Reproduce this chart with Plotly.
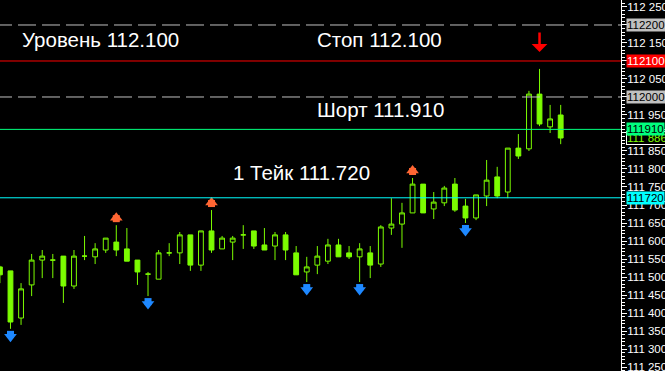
import plotly.graph_objects as go
import numpy as np

W, H = 665, 371
PLOT_RIGHT = 621  # pixel x of the price axis line

# ---------------- data ----------------
bar_index = list(range(54))
opens = [111.528, 111.517, 111.386, 111.478, 111.547, 111.547, 111.558, 111.475, 111.558, 111.556,
         111.575, 111.597, 111.578, 111.547, 111.508, 111.494, 111.567, 111.567, 111.617, 111.533,
         111.628, 111.578, 111.597, 111.617, 111.628, 111.589, 111.586, 111.617, 111.567, 111.514,
         111.533, 111.544, 111.589, 111.567, 111.556, 111.567, 111.536, 111.636, 111.647, 111.678,
         111.758, 111.689, 111.706, 111.758, 111.697, 111.664, 111.725, 111.778, 111.736, 111.858,
         111.856, 112.008, 111.917, 111.950]
highs = [111.531, 111.517, 111.483, 111.564, 111.575, 111.564, 111.558, 111.575, 111.614, 111.594,
         111.608, 111.644, 111.636, 111.547, 111.514, 111.575, 111.594, 111.625, 111.617, 111.628,
         111.686, 111.614, 111.614, 111.644, 111.628, 111.636, 111.625, 111.625, 111.586, 111.556,
         111.586, 111.606, 111.606, 111.586, 111.594, 111.586, 111.644, 111.719, 111.706, 111.775,
         111.758, 111.736, 111.753, 111.775, 111.717, 111.728, 111.825, 111.806, 111.858, 111.897,
         112.017, 112.078, 111.978, 111.978]
lows = [111.483, 111.356, 111.367, 111.447, 111.497, 111.497, 111.428, 111.467, 111.547, 111.536,
        111.567, 111.558, 111.544, 111.478, 111.447, 111.494, 111.558, 111.536, 111.517, 111.517,
        111.567, 111.578, 111.547, 111.578, 111.578, 111.575, 111.547, 111.547, 111.506, 111.486,
        111.508, 111.536, 111.556, 111.550, 111.486, 111.497, 111.528, 111.617, 111.581, 111.678,
        111.678, 111.661, 111.697, 111.681, 111.650, 111.658, 111.697, 111.719, 111.719, 111.828,
        111.850, 111.919, 111.900, 111.869]
closes = [111.506, 111.375, 111.467, 111.547, 111.558, 111.547, 111.475, 111.558, 111.558, 111.578,
          111.608, 111.575, 111.544, 111.514, 111.508, 111.567, 111.567, 111.617, 111.533, 111.628,
          111.575, 111.608, 111.608, 111.617, 111.586, 111.575, 111.617, 111.575, 111.506, 111.528,
          111.558, 111.589, 111.556, 111.556, 111.578, 111.533, 111.639, 111.647, 111.678, 111.758,
          111.678, 111.708, 111.747, 111.686, 111.664, 111.728, 111.769, 111.725, 111.858, 111.836,
          112.008, 111.925, 111.939, 111.886]

up_fractals = [11, 20, 39]
down_fractals = [1, 14, 29, 34, 44]
sell_signal = 51

level_uroven = 112.100
level_stop = 112.100
level_short = 111.910
level_take = 111.720
dashed_levels = [112.200, 112.000]

axis_prices = [round(111.25 + 0.05 * k, 3) for k in range(21)]
axis_labels = [f"{v:.3f}".replace(".", " ") for v in axis_prices]

# ---------------- layout constants ----------------
y_range = [111.2389, 112.2694]
x_range = [0.0095, 58.70]
pp = (y_range[1] - y_range[0]) / H  # price per pixel

LIME = "#7CFC00"
FONT = "Liberation Sans, Arial, sans-serif"

fig = go.Figure()

fig.add_trace(go.Candlestick(
    x=bar_index, open=opens, high=highs, low=lows, close=closes,
    increasing=dict(line=dict(color=LIME, width=1), fillcolor="black"),
    decreasing=dict(line=dict(color=LIME, width=1), fillcolor=LIME),
    whiskerwidth=0, showlegend=False, hoverinfo="skip",
))

# fractal arrows (stem + head)
ux = up_fractals
fig.add_trace(go.Scatter(x=ux, y=[highs[i] + 6.5 * pp for i in ux], mode="markers",
                         marker=dict(symbol="square", size=7, color="#FF6633", line=dict(width=0)),
                         showlegend=False, hoverinfo="skip"))
fig.add_trace(go.Scatter(x=ux, y=[highs[i] + 7.5 * pp for i in ux], mode="markers",
                         marker=dict(symbol="triangle-up", size=11, color="#FF6633", line=dict(width=0)),
                         showlegend=False, hoverinfo="skip"))
dx = down_fractals
fig.add_trace(go.Scatter(x=dx, y=[lows[i] - 5.5 * pp for i in dx], mode="markers",
                         marker=dict(symbol="square", size=7, color="#1E88FF", line=dict(width=0)),
                         showlegend=False, hoverinfo="skip"))
fig.add_trace(go.Scatter(x=dx, y=[lows[i] - 8 * pp for i in dx], mode="markers",
                         marker=dict(symbol="triangle-down", size=11, color="#1E88FF", line=dict(width=0)),
                         showlegend=False, hoverinfo="skip"))

# invisible trace on the secondary (tick-marks-only) axis so it is drawn
fig.add_trace(go.Scatter(x=[bar_index[0]], y=[closes[0]], yaxis="y2", mode="markers",
                         marker=dict(opacity=0), showlegend=False, hoverinfo="skip"))

shapes = []
xr = PLOT_RIGHT / W
for lv in dashed_levels:
    shapes.append(dict(type="line", xref="paper", yref="y", x0=-6 / W, x1=xr, y0=lv, y1=lv,
                       line=dict(color="#C0C0C0", width=1, dash="18px,6px")))
shapes.append(dict(type="line", xref="paper", yref="y", x0=0, x1=xr, y0=level_stop, y1=level_stop,
                   line=dict(color="#FF0000", width=1)))
shapes.append(dict(type="line", xref="paper", yref="y", x0=0, x1=xr, y0=level_short, y1=level_short,
                   line=dict(color="#00FF7F", width=1)))
shapes.append(dict(type="line", xref="paper", yref="y", x0=0, x1=xr, y0=level_take, y1=level_take,
                   line=dict(color="#00FFFF", width=1)))

annotations = []
# sell arrow
annotations.append(dict(x=sell_signal, y=highs[sell_signal] + 17 * pp, xref="x", yref="y",
                        text="", showarrow=True, ax=0, ay=-21, arrowcolor="#FF0000",
                        arrowwidth=2.5, arrowhead=1, arrowsize=1.05, standoff=0))

# text labels
def txt(text, x_px, y_px):
    annotations.append(dict(xref="paper", yref="paper", x=x_px / W, y=1 - y_px / H,
                            xanchor="left", yanchor="middle", text=text, showarrow=False,
                            font=dict(color="white", size=20.5, family=FONT)))

txt(f"Уровень {level_uroven:.3f}", 20, 39.5)
txt(f"Стоп {level_stop:.3f}", 315, 39.5)
txt(f"Шорт {level_short:.3f}", 315, 109)
txt(f"1 Тейк {level_take:.3f}", 231, 172)

# price boxes on the axis
def box(price, text, bg, fg, border=None):
    d = dict(xref="paper", yref="y", x=626 / W, y=price, xanchor="left", yanchor="middle",
             text=text, showarrow=False, bgcolor=bg, borderpad=0,
             font=dict(color=fg, size=11.5, family=FONT))
    if border:
        d.update(bordercolor=border, borderwidth=1)
    annotations.append(d)

last_close = closes[-1]
box(last_close, f"{last_close:.3f}".replace(".", " "), "black", LIME, border="white")
for lv in dashed_levels:
    box(lv, f"{lv:.3f}".replace(".", ""), "#C0C0C0", "black")
box(level_stop, f"{level_stop:.3f}".replace(".", ""), "#FF0000", "white")
box(level_short, f"{level_short:.3f}".replace(".", ""), "#00FF7F", "black")
box(level_take, f"{level_take:.3f}".replace(".", ""), "#00FFFF", "black")

minor_vals = [round(111.24 + 0.01 * k, 3) for k in range(104)]

fig.update_layout(
    width=W, height=H, margin=dict(l=0, r=0, t=0, b=0, autoexpand=False),
    paper_bgcolor="black", plot_bgcolor="black",
    boxgap=0.35, showlegend=False,
    shapes=shapes, annotations=annotations,
    xaxis=dict(domain=[0, xr], range=x_range, visible=False, rangeslider=dict(visible=False),
               showgrid=False, zeroline=False, automargin=False),
    # labels axis (invisible short ticks just to place the labels near the axis line)
    yaxis=dict(range=y_range, side="right", showgrid=False, zeroline=False, automargin=False,
               showline=True, linecolor="white", linewidth=1,
               ticks="outside", ticklen=3, tickcolor="rgba(0,0,0,0)", tickwidth=1,
               tickmode="array", tickvals=axis_prices, ticktext=axis_labels,
               ticklabeloverflow="allow",
               tickfont=dict(color="white", size=11.5, family=FONT)),
    # tick-marks axis
    yaxis2=dict(range=y_range, overlaying="y", side="right", anchor="x", showgrid=False,
                zeroline=False, automargin=False, showticklabels=False, showline=False,
                ticks="outside", ticklen=5, tickcolor="white", tickwidth=1,
                tickmode="array", tickvals=axis_prices,
                minor=dict(tickmode="array", tickvals=minor_vals, ticks="outside",
                           ticklen=3, tickcolor="white", tickwidth=1)),
)

fig.write_html("out.html", config={"displayModeBar": False, "staticPlot": True},
               post_script="document.body.style.margin='0';document.body.style.background='black';")
